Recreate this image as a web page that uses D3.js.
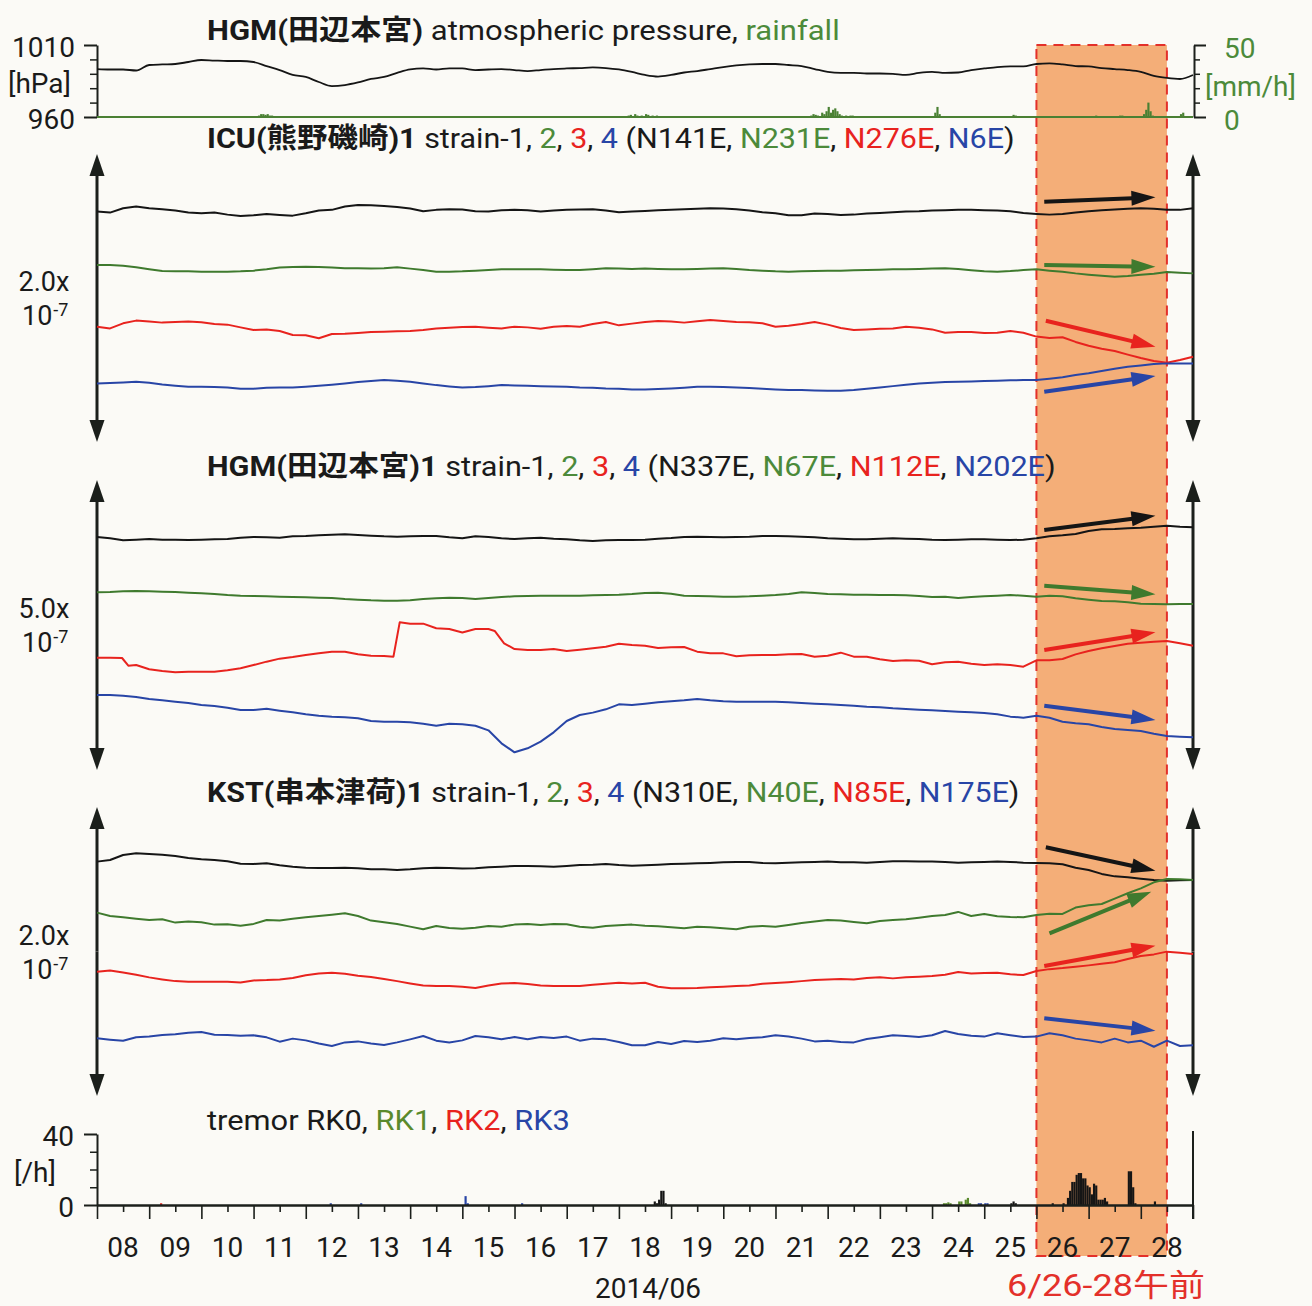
<!DOCTYPE html>
<html><head><meta charset="utf-8">
<script src="https://cdn.jsdelivr.net/npm/d3@7"></script>
<style>
html,body{margin:0;padding:0;background:#fbfaf6;}
svg{display:block;}
</style></head><body>
<svg id="c" width="1312" height="1306"></svg>
<script>
// ---------------- DATA ----------------
const startDate = "2014-06-08T00:00:00Z";
const endDate = "2014-06-29T00:00:00Z";
const highlightStart = "2014-06-26T00:00:00Z";
const highlightEnd = "2014-06-28T12:00:00Z";
const stepHours = 6; // sampling of the traces below
const dayLabels = ["08","09","10","11","12","13","14","15","16","17","18","19","20","21","22","23","24","25","26","27","28"];
const monthLabel = "2014/06";
const periodLabel = "6/26-28午前";

// atmospheric pressure [hPa], every 6 h
const pressure = [993.3,993.0,993.0,992.3,996.1,996.5,996.8,998.2,999.6,999.2,
998.9,998.9,998.2,995.4,992.6,989.2,987.8,984.3,981.5,982.2,
984.0,986.4,987.8,990.6,993.0,993.7,993.0,993.7,993.7,992.6,
993.0,993.3,992.6,991.9,992.6,993.3,993.7,994.0,994.4,994.0,
993.0,991.3,989.2,988.1,989.2,990.9,991.9,993.3,994.7,995.8,
996.5,996.8,996.8,996.1,995.4,993.3,991.3,990.6,990.6,990.2,
990.2,989.9,989.2,990.6,991.3,990.6,990.9,992.6,993.7,994.7,
995.1,995.1,996.8,997.2,996.5,995.4,995.1,994.0,993.3,992.6,
991.3,988.5,987.1,986.4,989.2];
// rainfall [hour since start, mm/h]
const rainfall = [[74,1],[75,2],[76,2],[77,1.5],[78,2],[79,1],[80,1],
[244,1],[245,1.5],[247,2],[248,1],[250,1],[252,2],[253,1.5],[255,1],[257,1],
[328,1],[329,2],[330,1.5],[331,1],[333,3],[334,2],[335,4],[336,7],[337,3],[338,5],[339,6],[340,4],[341,2],[342,1],[344,1],[346,1],[347,1],
[385,3],[386,7],[387,2],[421,1.5],[422,1],[459,1],[470,1],[471,1],
[481,2],[482,5],[483,10],[484,4],[485,1],[498,2],[499,3]];

// strain traces [x10^-9, offset for display], every 6 h
const icu1 = [160.0,159.3,162.3,163.5,162.3,161.6,160.7,159.3,158.8,159.3,
157.9,157.0,157.5,158.4,157.7,157.2,158.8,160.7,161.2,163.5,
164.6,164.4,163.9,163.2,162.1,160.2,161.2,161.6,161.4,160.2,
160.0,160.9,161.2,160.9,160.0,160.7,161.2,161.4,161.6,160.7,
159.5,160.0,160.5,160.9,161.2,161.6,161.9,162.3,162.1,161.6,
160.7,159.5,158.8,157.5,157.5,158.6,158.4,157.7,157.9,158.6,
159.1,159.5,160.0,160.2,160.7,160.9,161.2,161.2,160.9,160.7,
160.2,159.1,158.4,157.9,158.4,159.3,160.2,160.9,161.4,161.9,
162.3,161.9,161.2,161.2,162.3];
const icu2 = [122.9,122.9,122.4,121.3,119.9,118.7,118.5,118.5,118.3,118.3,
118.3,118.5,119.0,119.9,121.1,121.5,121.7,121.5,121.1,120.6,
120.6,120.4,120.6,121.3,120.4,119.4,118.3,118.3,118.5,119.0,
119.4,119.9,119.9,119.9,119.9,119.7,119.4,119.4,119.9,120.6,
120.4,120.1,120.4,120.1,119.9,119.9,120.1,120.4,120.6,120.1,
119.4,119.0,118.5,118.3,118.5,118.7,119.0,119.0,119.2,119.4,
119.7,119.9,119.9,120.1,120.4,120.6,120.1,119.2,118.5,118.3,
118.7,119.4,119.9,119.0,118.3,117.1,116.2,115.5,114.8,115.3,
116.2,116.9,118.0,117.6,117.1];
const icu3 = [80.1,78.9,82.4,84.3,83.6,82.9,83.3,83.6,83.1,81.9,
81.5,79.6,77.8,78.2,77.1,74.3,74.1,72.0,75.0,75.2,
75.7,76.4,76.6,76.9,77.1,77.8,78.9,79.4,79.9,80.1,
79.4,78.9,80.1,79.6,78.7,80.1,80.6,80.1,81.9,83.3,
81.0,82.2,83.3,84.0,83.6,82.9,83.8,84.7,84.0,83.3,
83.1,82.4,80.1,80.8,81.9,83.3,81.5,79.2,77.8,78.2,
78.7,78.9,80.1,79.4,78.2,75.9,76.4,76.4,75.7,75.9,
77.1,75.9,73.2,72.2,72.7,69.5,66.9,64.8,63.2,60.7,
58.3,56.2,55.1,56.9,59.2];
const icu4 = [40.7,41.0,41.4,41.9,41.2,40.0,39.1,38.4,38.4,38.2,
37.9,37.0,37.0,37.7,37.9,37.9,38.4,39.1,39.8,40.7,
41.6,42.3,43.0,42.5,41.9,40.7,39.5,38.6,37.9,38.2,
38.8,39.5,39.3,39.1,38.8,38.6,38.4,37.9,37.7,37.2,
37.0,36.5,36.5,36.8,37.2,37.7,38.4,38.4,38.2,37.9,
37.5,37.0,36.5,36.1,36.1,35.8,35.6,35.6,36.1,37.0,
37.9,38.8,39.8,40.7,41.2,41.6,41.9,42.1,42.3,42.5,
42.8,43.0,43.0,44.0,44.9,46.5,47.7,49.3,50.9,52.3,
53.2,54.1,54.6,54.6,54.6];

const hgm1 = [401.7,399.4,396.0,397.1,398.3,397.1,397.1,396.5,397.1,397.7,
398.3,400.6,401.7,401.1,400.6,402.9,403.4,404.6,405.7,406.3,
405.2,404.0,402.9,402.3,402.9,403.4,403.4,401.1,399.4,402.9,
401.7,399.4,398.3,399.4,400.6,398.9,397.7,396.0,394.8,396.0,
396.5,396.5,397.1,398.9,400.0,401.7,402.3,401.7,401.1,401.7,
402.3,403.4,403.4,402.9,402.3,401.1,399.4,398.9,397.7,397.7,
398.9,399.4,398.9,398.3,397.1,396.5,397.1,397.7,397.7,397.1,
396.5,397.1,399.4,402.9,404.6,406.9,412.1,414.9,415.5,416.7,
417.8,419.5,421.3,419.5,418.4];
const hgm2 = [306.3,306.9,308.0,308.6,308.0,307.5,306.9,305.7,304.6,303.5,
301.7,300.6,300.0,299.4,298.9,298.3,297.7,297.1,296.6,294.8,
293.7,292.5,292.0,292.0,292.5,294.8,296.0,297.1,296.6,294.8,
296.6,298.3,299.4,300.0,300.6,300.6,300.6,300.6,301.2,301.7,
302.3,303.5,305.2,305.7,304.0,300.6,300.0,299.4,298.9,298.9,
299.4,300.6,301.7,303.5,306.3,305.2,303.5,302.9,302.3,302.3,
301.7,301.7,301.2,300.0,298.3,298.9,296.6,298.3,299.4,300.6,
301.7,300.6,298.9,300.6,299.4,296.0,293.7,291.4,290.8,289.1,
286.8,286.3,285.7,286.3,286.3];
// strain-3 at HGM has steps, so it is given as [day since start, value]
const hgm3 = [[0,193.7],[0.25,193.7],[0.48,193.1],[0.6,179.9],[0.75,181.0],[1,173.6],[1.25,170.7],[1.5,168.4],[1.75,169.5],[2,169.5],
[2.25,169.5],[2.5,171.8],[2.75,175.3],[3,181.0],[3.25,186.8],[3.5,192.0],[3.75,194.8],[4,198.3],[4.25,201.1],[4.5,204.0],
[4.75,204.0],[5,199.4],[5.25,197.1],[5.5,196.6],[5.68,195.4],[5.8,254.6],[6,252.3],[6.25,252.3],[6.5,244.3],[6.75,243.1],
[7,237.1],[7.25,243.1],[7.5,243.1],[7.62,239.7],[7.8,218.4],[8,208.6],[8.25,206.9],[8.5,206.9],[8.75,208.6],[9,205.2],
[9.25,207.5],[9.5,209.8],[9.75,212.6],[10,217.8],[10.25,215.5],[10.5,214.4],[10.75,210.3],[11,211.5],[11.25,212.1],[11.5,204.0],
[11.75,201.1],[12,201.1],[12.25,196.0],[12.5,197.7],[12.75,198.3],[13,198.3],[13.25,199.4],[13.5,200.0],[13.75,195.4],[14,197.1],
[14.25,202.3],[14.5,195.4],[14.75,195.4],[15,190.8],[15.25,187.9],[15.5,189.1],[15.75,188.5],[16,182.2],[16.25,185.6],[16.5,186.8],
[16.75,183.3],[17,181.0],[17.25,182.2],[17.5,181.0],[17.75,178.2],[18,189.1],[18.25,189.1],[18.5,191.4],[18.75,199.4],[19,205.2],
[19.25,209.8],[19.5,213.8],[19.75,217.8],[20,219.5],[20.25,221.3],[20.5,222.4],[20.75,218.4],[21,214.4]];
const hgm4 = [129.3,129.3,128.2,125.9,122.4,120.1,117.8,115.5,112.1,110.3,
107.5,103.4,103.4,105.7,102.3,99.4,96.0,93.7,92.0,90.8,
89.1,84.5,83.3,83.3,82.2,79.9,76.4,79.9,78.7,76.4,
68.4,46.0,30.5,37.4,48.9,64.9,84.5,94.8,98.9,104.6,
113.2,112.1,114.4,116.7,118.4,120.1,122.4,120.1,118.4,117.8,
117.8,117.8,117.8,116.7,115.5,114.4,113.2,112.1,110.9,109.2,
108.0,106.3,105.2,104.0,102.9,101.7,100.6,99.4,98.3,96.0,
92.0,90.2,93.7,90.2,83.3,80.5,78.7,74.1,70.7,69.0,
67.2,62.6,58.6,57.5,56.3];

const kst1 = [162.2,163.3,166.8,168.0,167.5,167.0,166.1,164.7,163.8,163.3,
162.4,160.8,160.6,161.0,159.7,158.7,158.0,157.8,157.8,158.0,
157.6,156.9,156.9,156.4,156.9,157.6,158.0,157.8,157.4,157.6,
158.3,158.7,159.2,159.2,159.0,158.7,159.2,159.9,160.1,160.6,
159.9,159.4,159.7,160.1,160.6,160.8,161.0,161.3,161.7,162.0,
162.0,161.3,161.0,161.5,161.7,162.0,162.2,161.7,161.7,161.5,
162.0,162.4,162.4,162.2,162.2,162.0,161.5,161.7,162.0,162.2,
162.0,161.5,161.3,161.0,160.4,158.0,156.4,153.7,152.0,151.4,
150.4,149.5,149.0,149.3,149.5];
const kst2 = [126.9,124.6,123.7,122.7,121.8,122.3,120.0,120.7,120.2,118.6,
118.8,117.9,119.1,121.8,121.4,122.7,123.7,124.6,125.5,126.4,
124.6,121.4,120.2,119.1,117.2,115.4,117.7,116.3,115.8,116.5,
117.7,117.2,118.6,119.1,118.4,119.1,118.8,117.2,116.5,117.7,
118.1,118.6,117.9,117.4,116.8,116.1,117.2,116.8,116.1,115.4,
117.2,117.7,117.2,118.4,119.7,120.7,121.8,121.4,120.4,119.5,
121.1,121.8,122.3,123.4,124.6,125.3,127.4,124.6,126.0,124.4,
123.9,123.7,125.3,126.2,126.0,130.4,132.0,132.9,136.6,140.3,
143.7,147.9,150.2,150.0,149.5];
const kst3 = [86.0,86.9,85.5,83.9,82.1,80.7,79.5,79.1,79.1,79.1,
79.1,78.6,80.0,80.2,80.7,81.6,83.5,84.8,85.3,84.6,
83.2,82.3,80.9,79.5,77.9,76.5,76.1,76.1,75.6,74.7,
76.5,77.9,78.2,77.5,76.5,76.1,76.1,76.1,77.0,77.7,
78.4,77.9,78.4,75.6,74.5,74.5,74.7,75.2,75.6,76.1,
76.5,77.7,78.2,78.8,79.5,80.2,80.7,80.9,80.7,81.6,
82.1,81.4,82.1,82.5,83.0,83.9,85.8,84.8,85.1,85.3,
84.2,83.7,86.5,87.8,88.5,89.5,90.4,91.5,92.5,94.8,
96.9,98.0,99.9,99.2,98.3];
const kst4 = [39.9,39.0,38.3,40.6,41.1,42.2,42.7,43.8,44.3,42.4,
42.2,41.7,42.0,40.6,37.6,39.7,38.5,36.4,34.6,37.1,
37.8,36.4,35.3,37.1,39.2,41.5,38.3,37.1,38.5,41.5,
40.6,39.2,40.8,39.2,40.8,40.1,41.1,38.3,39.7,39.2,
37.4,35.1,35.1,37.4,36.0,38.1,37.4,38.3,39.9,39.2,
40.1,40.6,42.0,41.1,39.7,37.8,38.3,37.4,37.1,39.4,
40.6,42.0,41.5,40.8,42.0,45.0,42.9,41.7,41.1,43.4,
42.0,40.8,41.1,43.4,42.0,39.7,38.5,37.1,39.7,37.1,
38.3,34.1,38.3,34.6,35.1];

// trend arrows [day0, value0, day1, value1] per strain component
const icuArrows = [[18.15,166.9,20.28,169.9],[18.15,122.9,20.28,121.7],[18.18,84.2,20.28,66.2],[18.15,34.9,20.28,45.8]];
const hgmArrows = [[18.15,413.8,20.28,438.4],[18.15,317.8,20.28,302.9],[18.15,206.9,20.28,237.4],[18.15,110.9,20.28,86.2]];
const kstArrows = [[18.18,172.1,20.28,155.9],[18.25,112.6,20.2,141.4],[18.15,90.0,20.28,104.0],[18.15,53.8,20.28,45.2]];

// scale bars: full height of each strain panel [x10^-9]
const icuScale = 200, hgmScale = 500, kstScale = 200;
const icuScaleText = ["2.0x","10","-7"], hgmScaleText = ["5.0x","10","-7"], kstScaleText = ["2.0x","10","-7"];

// tremor counts [hour since start, count/h]
const tremorRK0 = [[256,2],[257,1],[258,3],[259,8],[260,8],[261,1],[420,1],[421,2],[422,1],[439,1],[444,1],
[446,4],[447,8],[448,13],[449,13],[450,17],[451,18],[452,18],[453,15],[454,15],[455,11],[456,10],[457,6],[458,12],[459,11],
[460,3],[461,3],[462,3],[463,4],[464,2],[474,19],[475,19],[476,10],[477,1],[486,2]];
const tremorRK1 = [[389,1],[390,1],[391,1.5],[392,1],[396,2],[397,2],[399,3],[400,4],[401,1]];
const tremorRK2 = [[29,1]];
const tremorRK3 = [[107,1],[121,1],[169,5],[170,1],[195,1],[405,1],[406,1],[408,1],[409,1]];

const pressureTicks = [960,970,980,990,1000,1010];
const rainTicks = [0,10,20,30,40,50];
const tremorTicks = [0,10,20,30,40];

// ---------------- DRAWING ----------------
const FONT = "Roboto, 'Noto Sans CJK JP', sans-serif";
const C = {k:"#151515", g:"#3f7a2e", r:"#e8231e", b:"#2845a6", gt:"#4c8a3a", ax:"#1b1f1b"};
const seriesColors = [C.k, C.g, C.r, C.b];
const svg = d3.select("#c").attr("font-family", FONT);
svg.append("rect").attr("width",1312).attr("height",1306).attr("fill","#fbfaf6");

const t0 = new Date(startDate), t1 = new Date(endDate);
const H = 3600e3;
const x = d3.scaleUtc().domain([t0,t1]).range([97,1193]);
const tStep = i => new Date(+t0 + i*stepHours*H);
const tDay = d => new Date(+t0 + d*24*H);
const tHour = h => new Date(+t0 + h*H);

// highlight
const hx0 = x(new Date(highlightStart)), hx1 = x(new Date(highlightEnd));
svg.append("rect").attr("x",hx0).attr("y",45).attr("width",hx1-hx0).attr("height",1256-45).attr("fill","#f4ae78");
svg.append("rect").attr("x",hx0).attr("y",45).attr("width",hx1-hx0).attr("height",1256-45)
  .attr("fill","none").attr("stroke","#e3302a").attr("stroke-width",2).attr("stroke-dasharray","10,7");

function richText(x0, y0, parts, size, target, anchor) {
  const t = svg.append("text").attr("x",x0).attr("y",y0).attr("font-size",size).attr("font-family",FONT);
  if (anchor) t.attr("text-anchor",anchor);
  parts.forEach(p => t.append("tspan").text(p[0]).attr("font-weight",p[1]?700:400).attr("fill",p[2]||"#1a1a1a"));
  if (target) {
    const w = t.node().getComputedTextLength();
    const s = target / w;
    t.attr("transform",`translate(${x0},0) scale(${s},1) translate(${-x0},0)`);
  }
  return t;
}
function styleAxis(g, size) {
  g.attr("font-family",FONT).attr("font-size",size||28).attr("color",C.ax);
  g.selectAll("text").attr("fill","#1a1a1a");
}

// ---- top panel: pressure & rainfall ----
const yP = d3.scaleLinear().domain([960,1010]).range([117,45]);
const yR = d3.scaleLinear().domain([0,50]).range([117,45]);
const gPm = svg.append("g").attr("transform","translate(97,0)")
  .call(d3.axisLeft(yP).tickValues([pressureTicks[0], pressureTicks[5]]).tickSize(13).tickSizeOuter(0).tickPadding(9).tickFormat(d3.format("d")));
styleAxis(gPm); gPm.selectAll("line,path").attr("stroke-width",2);
gPm.selectAll("text").attr("dy","0.42em");
const gPn = svg.append("g").attr("transform","translate(97,0)")
  .call(d3.axisLeft(yP).tickValues(pressureTicks.slice(1,5)).tickSize(7).tickFormat(""));
styleAxis(gPn); gPn.select(".domain").remove(); gPn.selectAll("line").attr("stroke-width",1.5);
richText(8, 93, [["[hPa]"]], 28);

const gRm = svg.append("g").attr("transform","translate(1194,0)")
  .call(d3.axisRight(yR).tickValues([rainTicks[0], rainTicks[5]]).tickSize(12).tickSizeOuter(0).tickPadding(18).tickFormat(d3.format("d")));
styleAxis(gRm); gRm.selectAll("text").attr("fill",C.gt).attr("dy","0.45em"); gRm.selectAll("line,path").attr("stroke-width",2);
const gRn = svg.append("g").attr("transform","translate(1194,0)")
  .call(d3.axisRight(yR).tickValues(rainTicks.slice(1,5)).tickSize(6).tickFormat(""));
styleAxis(gRn); gRn.select(".domain").remove(); gRn.selectAll("line").attr("stroke-width",1.5);
richText(1205, 96, [["[mm/h]",0,C.gt]], 28);

svg.append("g").selectAll("rect").data(rainfall).join("rect")
  .attr("x",d=>x(tHour(d[0]))).attr("width",d=>x(tHour(d[0]+1))-x(tHour(d[0])))
  .attr("y",d=>yR(d[1])).attr("height",d=>yR(0)-yR(d[1])).attr("fill","#4a8033");
svg.append("line").attr("x1",x(t0)).attr("x2",x(t1)).attr("y1",yR(0)).attr("y2",yR(0))
  .attr("stroke","#4a8033").attr("stroke-width",2.2);
svg.append("path").datum(pressure)
  .attr("d", d3.line().x((d,i)=>x(tStep(i))).y(d=>yP(d)).curve(d3.curveMonotoneX))
  .attr("fill","none").attr("stroke",C.k).attr("stroke-width",1.8);

richText(207, 40, [["HGM(田辺本宮)",1],[" atmospheric pressure, "],["rainfall",0,C.gt]], 28, 633);

// ---- strain panels ----
function drawArrow(x1,y1,x2,y2,color,w,hl,hw) {
  const dx=x2-x1, dy=y2-y1, L=Math.hypot(dx,dy), ux=dx/L, uy=dy/L;
  const bx=x2-ux*hl, by=y2-uy*hl;
  svg.append("line").attr("x1",x1).attr("y1",y1).attr("x2",bx+ux*1).attr("y2",by+uy*1)
    .attr("stroke",color).attr("stroke-width",w);
  svg.append("path").attr("d",`M${x2},${y2}L${bx-uy*hw},${by+ux*hw}L${bx+uy*hw},${by-ux*hw}Z`).attr("fill",color);
}
function doubleArrow(xp, yTop, yBot) {
  drawArrow(xp,(yTop+yBot)/2,xp,yTop,C.ax,3,22,7.5);
  drawArrow(xp,(yTop+yBot)/2,xp,yBot,C.ax,3,22,7.5);
}
const panels = [
  {title:[["ICU(熊野磯崎)1",1],[" strain-1, "],["2",0,C.gt],[", "],["3",0,C.r],[", "],["4",0,C.b],[" (N141E, "],["N231E",0,C.gt],[", "],["N276E",0,C.r],[", "],["N6E",0,C.b],[")"]],
   titleY:148, titleW:808, scale:icuScale, range:[442,154], series:[icu1,icu2,icu3,icu4], arrows:icuArrows, label:icuScaleText},
  {title:[["HGM(田辺本宮)1",1],[" strain-1, "],["2",0,C.gt],[", "],["3",0,C.r],[", "],["4",0,C.b],[" (N337E, "],["N67E",0,C.gt],[", "],["N112E",0,C.r],[", "],["N202E",0,C.b],[")"]],
   titleY:476, titleW:849, scale:hgmScale, range:[770,480], series:[hgm1,hgm2,hgm3,hgm4], arrows:hgmArrows, label:hgmScaleText},
  {title:[["KST(串本津荷)1",1],[" strain-1, "],["2",0,C.gt],[", "],["3",0,C.r],[", "],["4",0,C.b],[" (N310E, "],["N40E",0,C.gt],[", "],["N85E",0,C.r],[", "],["N175E",0,C.b],[")"]],
   titleY:802, titleW:813, scale:kstScale, range:[1096,807], series:[kst1,kst2,kst3,kst4], arrows:kstArrows, label:kstScaleText}
];
panels.forEach(p => {
  const y = d3.scaleLinear().domain([0,p.scale]).range(p.range);
  richText(207, p.titleY, p.title, 28, p.titleW);
  doubleArrow(97, y(p.scale), y(0));
  doubleArrow(1193, y(p.scale), y(0));
  const mid = (y(0)+y(p.scale))/2;
  richText(44, mid-7, [[p.label[0]]], 27, null, "middle");
  const t = svg.append("text").attr("x",22).attr("y",mid+27).attr("font-size",27).attr("fill","#1a1a1a");
  t.append("tspan").text(p.label[1]);
  t.append("tspan").text(p.label[2]).attr("font-size",18).attr("dy",-9).attr("dx",1);
  p.series.forEach((s,i) => {
    const ln = Array.isArray(s[0])
      ? d3.line().x(d=>x(tDay(d[0]))).y(d=>y(d[1]))
      : d3.line().x((d,j)=>x(tStep(j))).y(d=>y(d));
    svg.append("path").datum(s).attr("d",ln).attr("fill","none")
      .attr("stroke",seriesColors[i]).attr("stroke-width",2).attr("stroke-linejoin","round");
  });
  p.arrows.forEach((a,i) => drawArrow(x(tDay(a[0])),y(a[1]),x(tDay(a[2])),y(a[3]),seriesColors[i],4,24,7.5));
});

// ---- tremor panel ----
const yT = d3.scaleLinear().domain([0,40]).range([1205,1134]);
richText(207, 1130, [["tremor RK0, "],["RK1",0,"#5a8a2c"],[", "],["RK2",0,C.r],[", "],["RK3",0,C.b]], 28, 363);
[[tremorRK0,C.k],[tremorRK1,"#5a8a2c"],[tremorRK2,C.r],[tremorRK3,C.b]].forEach(([arr,col]) => {
  svg.append("g").selectAll("rect").data(arr).join("rect")
    .attr("x",d=>x(tHour(d[0]))).attr("width",d=>x(tHour(d[0]+1))-x(tHour(d[0])))
    .attr("y",d=>yT(d[1])).attr("height",d=>yT(0)-yT(d[1])).attr("fill",col);
});
const gTm = svg.append("g").attr("transform","translate(97,0)")
  .call(d3.axisLeft(yT).tickValues([tremorTicks[0], tremorTicks[4]]).tickSize(13).tickSizeOuter(0).tickPadding(10).tickFormat(d3.format("d")));
styleAxis(gTm); gTm.selectAll("line,path").attr("stroke-width",2);
gTm.selectAll("text").attr("dy","0.42em");
const gTn = svg.append("g").attr("transform","translate(97,0)")
  .call(d3.axisLeft(yT).tickValues(tremorTicks.slice(1,4)).tickSize(7).tickFormat(""));
styleAxis(gTn); gTn.select(".domain").remove(); gTn.selectAll("line").attr("stroke-width",1.5);
richText(14, 1182, [["[/h]"]], 28);
svg.append("line").attr("x1",x(t1)).attr("x2",x(t1)).attr("y1",yT(40)-3).attr("y2",1219)
  .attr("stroke",C.ax).attr("stroke-width",2);

// x axis
const gX = svg.append("g").attr("transform",`translate(0,${yT(0)})`)
  .call(d3.axisBottom(x).ticks(d3.utcDay.every(1)).tickSize(14).tickSizeOuter(0).tickFormat(""));
styleAxis(gX); gX.select(".domain").attr("stroke-width",2.6); gX.selectAll("line").attr("stroke-width",1.6);
const noons = dayLabels.map((d,i) => tDay(i+0.5));
const gXn = svg.append("g").attr("transform",`translate(0,${yT(0)})`)
  .call(d3.axisBottom(x).tickValues(noons).tickSize(7).tickFormat(""));
styleAxis(gXn); gXn.select(".domain").remove(); gXn.selectAll("line").attr("stroke-width",1.6);
svg.append("g").selectAll("text").data(dayLabels).join("text")
  .attr("x",(d,i)=>x(noons[i])).attr("y",1257).attr("text-anchor","middle")
  .attr("font-size",28).attr("font-family",FONT).attr("fill","#1a1a1a").text(d=>d);
richText(648, 1298, [[monthLabel]], 28, null, "middle");
richText(1007, 1296, [[periodLabel,0,"#e3302a"]], 31, 198);
</script>
</body></html>
